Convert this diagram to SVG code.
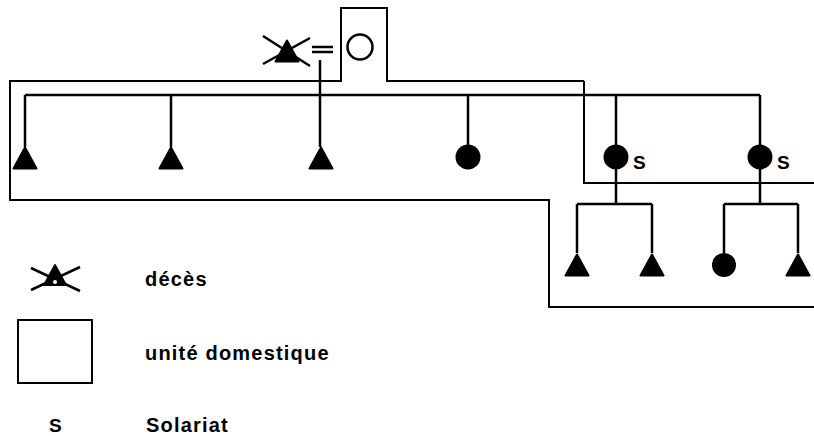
<svg xmlns="http://www.w3.org/2000/svg" width="814" height="436" viewBox="0 0 814 436">
<style>
.ol{fill:none;stroke:#000;stroke-width:2}
.ln{fill:none;stroke:#000;stroke-width:2.5}
.sym{fill:#000;stroke:#000;stroke-width:2;stroke-linejoin:round}
.txt{font-family:"Liberation Sans",Arial,sans-serif;font-weight:bold;font-size:20px;letter-spacing:1.2px;fill:#000}
.s{font-family:"Liberation Sans",Arial,sans-serif;font-weight:bold;font-size:19px;fill:#000}
</style>
<defs>
<path id="tri" d="M0,-10.5 L11.5,10.5 L-11.5,10.5 Z"/>
</defs>
<rect width="814" height="436" fill="#fff"/>
<g id="units">
<path class="ol" d="M584,81 L387,81 L387,8 L341,8 L341,81 L10,81 L10,200 L549,200 L549,307 L814,307"/>
<path class="ol" d="M584,81 L584,183 L814,183"/>
</g>
<g id="connectors">
<path class="ln" d="M25,95 L760,95"/>
<path class="ln" d="M25,95 V147 M171,95 V147 M320,60 V147 M468,95 V145 M616,95 V145 M760,95 V145"/>
<path class="ln" d="M616,168 V204 M577,204 H652 M577,204 V253 M652,204 V253"/>
<path class="ln" d="M760,168 V204 M724,204 H798 M724,204 V253 M798,204 V253"/>
<path class="ln" d="M312,47 H333 M312,52 H333"/>
</g>
<g id="deceased">
<use href="#tri" class="sym" transform="translate(287,51)"/>
<path class="ln" stroke-width="3" d="M263,36 L310,66 M310,38 L263,64"/>
</g>
<g id="wife"><circle cx="360" cy="47" r="12.5" fill="none" stroke="#000" stroke-width="2.5"/></g>
<g id="c1"><use href="#tri" class="sym" transform="translate(25,158)"/></g>
<g id="c2"><use href="#tri" class="sym" transform="translate(171,158)"/></g>
<g id="c3"><use href="#tri" class="sym" transform="translate(321,158)"/></g>
<g id="c4"><circle cx="468" cy="157" r="12.5"/></g>
<g id="c5"><circle cx="616" cy="157" r="12.5"/><text class="s" x="633" y="169">S</text></g>
<g id="c6"><circle cx="760" cy="157" r="12.5"/><text class="s" x="777" y="169">S</text></g>
<g id="g1"><use href="#tri" class="sym" transform="translate(577,265)"/></g>
<g id="g2"><use href="#tri" class="sym" transform="translate(652,265)"/></g>
<g id="g3"><circle cx="724" cy="265" r="12"/></g>
<g id="g4"><use href="#tri" class="sym" transform="translate(798,265)"/></g>
<g id="legend">
<use href="#tri" class="sym" transform="translate(55,275) scale(0.95)"/>
<path class="ln" stroke-width="3" d="M31,268 L80,291 M80,267 L31,290"/>
<circle cx="55" cy="282" r="2" fill="#fff"/>
<text class="txt" x="145" y="286">décès</text>
<rect x="18" y="320" width="74" height="63" class="ol"/>
<text class="txt" x="145" y="360">unité domestique</text>
<text class="s" x="49" y="432">S</text>
<text class="txt" x="146" y="432">Solariat</text>
</g>
</svg>
